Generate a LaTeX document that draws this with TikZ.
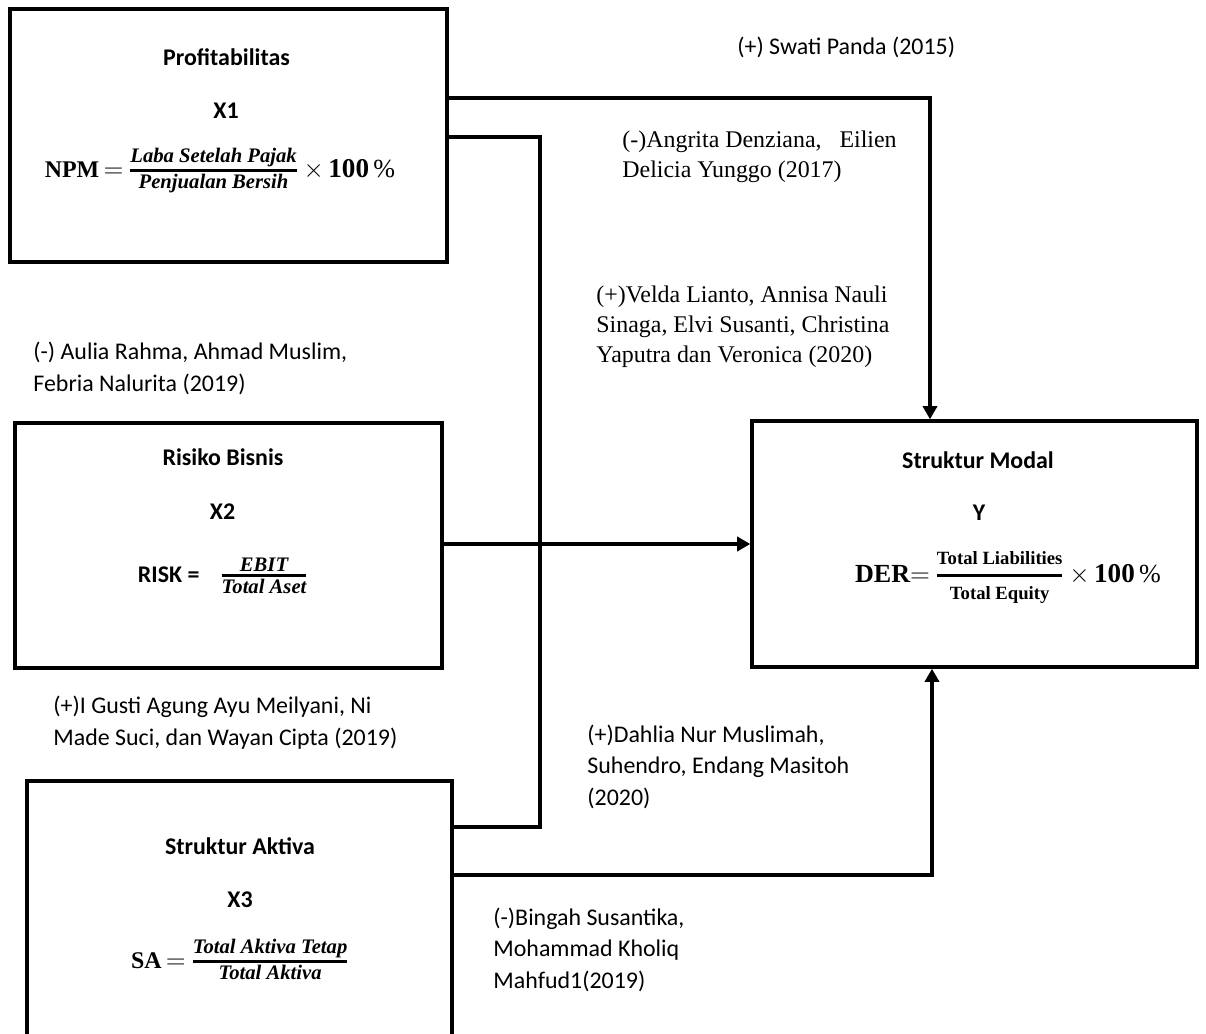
\documentclass[tikz,border=0pt]{standalone}
\usepackage{amsmath}
\usepackage{fontspec}
\setmainfont{Carlito}
\newfontfamily\timesfont{Liberation Serif}
\usetikzlibrary{arrows.meta,positioning}
\newcommand{\fracbox}[3][1]{\ensuremath{\genfrac{}{}{1.1pt}{#1}{\hbox{#2}}{\hbox{#3}}}}
\newcommand{\fbi}{\fontsize{9.5}{11}\selectfont\timesfont\bfseries\itshape}
\newcommand{\fbu}{\fontsize{8.6}{10}\selectfont\timesfont\bfseries}
\tikzset{
        block/.style = {draw, rectangle, line width=1.6pt, inner sep=0pt},
        title/.style = {font=\bfseries\fontsize{11}{13}\selectfont, anchor=base},
        formula/.style = {font=\fontsize{12}{14}\selectfont, anchor=base},
        link/.style = {draw, line width=1.4pt},
        arrow/.style = {link, -{Triangle[length=6pt,width=6.5pt]}},
        note/.style = {align=left, anchor=base west, inner sep=0pt,
            font=\fontsize{11}{14.3}\selectfont},
        notet/.style = {note, font=\timesfont\fontsize{11}{13.8}\selectfont},
    }

\begin{document}
\begin{tikzpicture}[x=0.46pt, y=-0.46pt]
    \useasboundingbox (0,0) rectangle (1206,1034);
    \clip (0,0) rectangle (1206,1034);

    % variabel
    \node[block, minimum width=201pt, minimum height=116.4pt] (x1) at (228.5,135.5) {};
    \node[block, minimum width=196.4pt, minimum height=112.7pt] (x2) at (228.5,545.5) {};
    \node[block, minimum width=195.5pt, minimum height=137.5pt] (x3) at (239.5,930.5) {};
    \node[block, minimum width=204.7pt, minimum height=113.2pt] (sm) at (974.5,544) {};

    \node[title] (x1t) at (226.5,66) {Profitabilitas};
    \node[title] (x1v) at (226,118) {X1};
    \node[formula] (x1f) at (220,177) {{\timesfont\bfseries\fontsize{11}{13}\selectfont NPM}\,$=$\,\fracbox{\fbi Laba Setelah Pajak}{\fbi Penjualan Bersih}\,$\times$\,{\timesfont\bfseries\fontsize{12.5}{14}\selectfont 100}\,{\timesfont\%}};

    \node[title] (x2t) at (223,465) {Risiko Bisnis};
    \node[title] (x2v) at (222.5,519) {X2};
    \node[formula] (x2f) at (223.5,582) {{\bfseries\fontsize{11}{13}\selectfont RISK =}\hspace{9pt}\fracbox{\fbi\ \ EBIT\ \ }{\fbi Total Aset}};

    \node[title] (x3t) at (240,854) {Struktur Aktiva};
    \node[title] (x3v) at (240,907) {X3};
    \node[formula] (x3f) at (240.5,968) {{\timesfont\bfseries\fontsize{11}{13}\selectfont SA}\,$=$\,\fracbox{\fbi Total Aktiva Tetap}{\fbi Total Aktiva}};

    \node[title] (smt) at (978,468) {Struktur Modal};
    \node[title] (smv) at (979,520) {Y};
    \node[formula] (smf) at (1008,582) {{\timesfont\bfseries\fontsize{12}{14}\selectfont DER}$=$\,\fracbox[0]{\fbu Total Liabilities}{\fbu Total Equity}\,$\times$\,{\timesfont\bfseries\fontsize{12.5}{14}\selectfont 100}\,{\timesfont\%}};

    % jalur
    \coordinate (k1) at (930,98);
    \coordinate (k2) at (540,137);
    \coordinate (k3) at (540,827);
    \coordinate (k4) at (932,875);
    \draw[arrow] (x1.east |- k1) -- (k1) -- (k1 |- sm.north);
    \draw[link] (x1.east |- k2) -- (k2) -- (k3) -- (k3 -| x3.east);
    \draw[arrow] (x2.east |- sm.west) -- (sm.west);
    \draw[arrow] (k4 -| x3.east) -- (k4) -- (k4 |- sm.south);

    % penelitian terdahulu (base = baris terakhir)
    \node[note] (n1) at (737,55) {(+) Swati Panda (2015)};
    \node[notet] (n2) at (622,177) {(-)Angrita Denziana,\ \ \ Eilien\\Delicia Yunggo (2017)};
    \node[notet] (n3) at (596,362) {(+)Velda Lianto, Annisa Nauli\\Sinaga, Elvi Susanti, Christina\\Yaputra dan Veronica (2020)};
    \node[note] (n4) at (33,391) {(-) Aulia Rahma, Ahmad Muslim,\\Febria Nalurita (2019)};
    \node[note] (n5) at (53,745) {(+)I Gusti Agung Ayu Meilyani, Ni\\Made Suci, dan Wayan Cipta (2019)};
    \node[note] (n6) at (587,805) {(+)Dahlia Nur Muslimah,\\Suhendro, Endang Masitoh\\(2020)};
    \node[note] (n7) at (493,988) {(-)Bingah Susantika,\\Mohammad Kholiq\\Mahfud1(2019)};
\end{tikzpicture}
\end{document}
